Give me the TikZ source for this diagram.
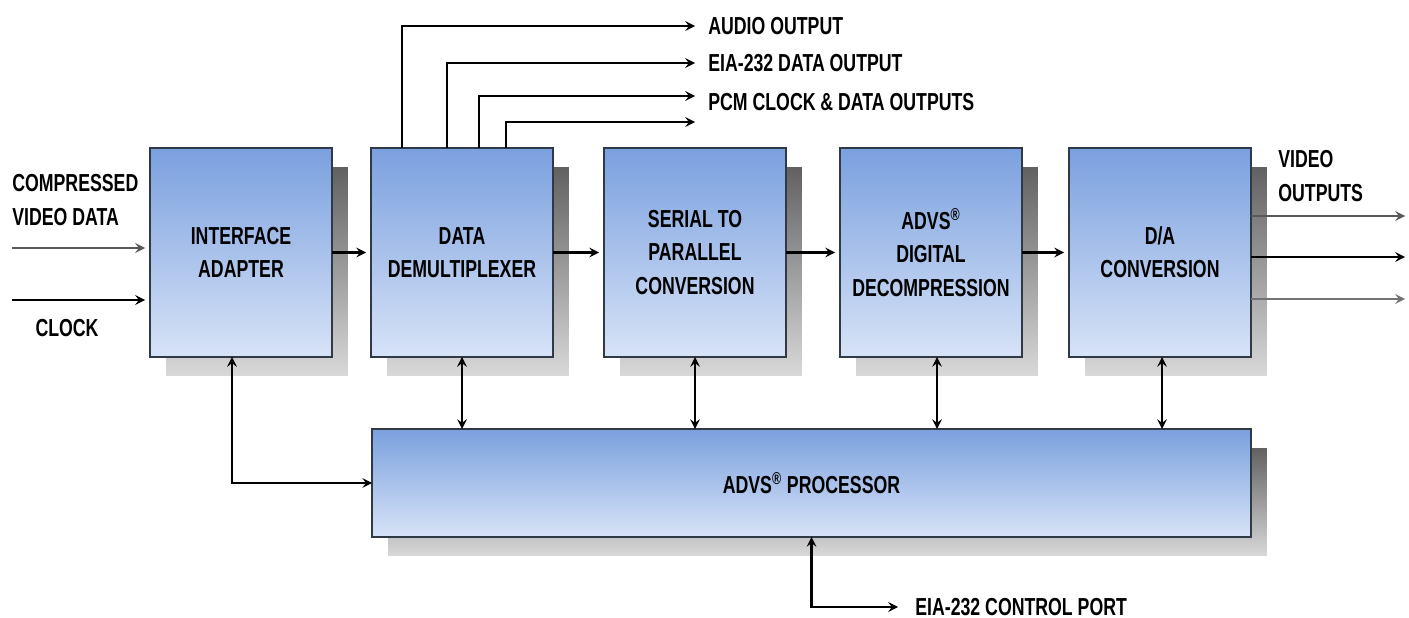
\documentclass[tikz,border=0pt]{standalone}
\usepackage{fontspec}
\setmainfont{Liberation Sans}[FakeStretch=0.72]
\usetikzlibrary{shadows}
\definecolor{boxtop}{RGB}{122,160,222}
\definecolor{boxbot}{RGB}{215,227,247}
\definecolor{edge}{RGB}{48,58,70}
\begin{document}
\begin{tikzpicture}[x=0.02cm, y=-0.02cm,
    font=\fontsize{14}{19}\selectfont\bfseries,
    block/.style={draw=edge, line width=1pt, top color=boxtop,
      bottom color=boxbot, minimum width=3.64cm, minimum height=4.18cm,
      align=center, outer sep=0pt, general shadow={shadow xshift=0.32cm,
        shadow yshift=-0.38cm, top color=black!62, bottom color=black!15}},
    lbl/.style={inner sep=0pt, align=left}]
    \useasboundingbox (0,0) rectangle (1409,618);
    \begin{scope}[every node/.style={block}]
      \node (1) at (241,252.5) {INTERFACE\\ADAPTER}; \node (2) at
      (462,252.5) {DATA\\DEMULTIPLEXER}; \node (3) at (695,252.5)
      {SERIAL TO\\PARALLEL\\CONVERSION}; \node (4) at (931,252.5)
      {ADVS\textsuperscript{®}\\DIGITAL\\DECOMPRESSION}; \node (5) at
      (1160,252.5) {D/A\\CONVERSION}; \node [minimum width=17.58cm,
      minimum height=2.16cm] (6) at (811.5,483) {ADVS\textsuperscript{®}
        PROCESSOR};
    \end{scope}
    \begin{scope}[every node/.style={lbl}]
      \node [anchor=west] (cvd) at (12,200) {COMPRESSED\\VIDEO DATA};
      \node (clk) at (67,328) {CLOCK}; \node [anchor=west, inner
      xsep=0.26cm] (aud) at (695,26) {AUDIO OUTPUT}; \node [anchor=west,
      inner xsep=0.26cm] (eia) at (695,63) {EIA-232 DATA OUTPUT}; \node
      [anchor=west, inner xsep=0.26cm] (pcm) at (695,102) {PCM CLOCK \&
        DATA OUTPUTS}; \node [anchor=west] (vo) at (1278,176)
      {VIDEO\\OUTPUTS}; \node [anchor=west, inner xsep=0.34cm] (ctl) at
      (898,607) {EIA-232 CONTROL PORT};
    \end{scope}
    \begin{scope}[->, >=stealth, line width=1.4pt]
      \coordinate (c1) at (12,248); \coordinate (c2) at (12,300);
      \coordinate (p1) at (695,96); \coordinate (p2) at (695,122);
      \coordinate (v1) at (1405,216); \coordinate (v2) at (1405,257);
      \coordinate (v3) at (1405,299);
      \draw [black!65, shorten >=0.1cm] (c1) -- (1.west |- c1); \draw
      [shorten >=0.1cm] (c2) -- (1.west |- c2); \draw [shorten
      >=0.1cm] (1) -- (2); \draw [shorten >=0.1cm] (2) -- (3); \draw
      [shorten >=0.1cm] (3) -- (4); \draw [shorten >=0.1cm] (4) --
      (5);
      \draw ([xshift=0.62cm]2.north west) |- (aud.west); \draw
      ([xshift=1.52cm]2.north west) |- (eia.west); \draw
      ([xshift=2.16cm]2.north west) |- (p1); \draw
      ([xshift=2.7cm]2.north west) |- (p2);
      \draw [black!65] (5.east |- v1) -- (v1); \draw (5.east |- v2) --
      (v2); \draw [black!55] (5.east |- v3) -- (v3);
      \draw [<->] (2.south) -- (2.south |- 6.north); \draw [<->]
      (3.south) -- (3.south |- 6.north); \draw [<->]
      ([xshift=0.12cm]4.south) -- ([xshift=0.12cm]4.south |- 6.north);
      \draw [<->] ([xshift=0.04cm]5.south) -- ([xshift=0.04cm]5.south
      |- 6.north);
      \draw [<->] ([xshift=-0.18cm]1.south) |- (6.west); \draw [<->]
      (6.south) |- (ctl.west);
    \end{scope}
  \end{tikzpicture}
\end{document}
